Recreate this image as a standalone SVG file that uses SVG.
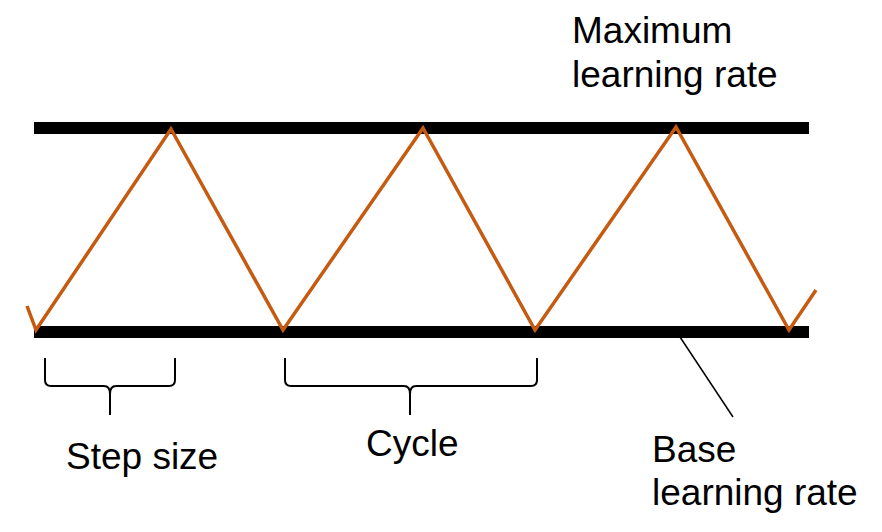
<svg xmlns="http://www.w3.org/2000/svg" width="882" height="532" viewBox="0 0 882 532">
<style>
.bar{fill:#000}
.wave{fill:none;stroke:#C55A11;stroke-width:3.5;stroke-linejoin:miter}
.brace{fill:none;stroke:#000;stroke-width:2}
.lead{stroke:#000;stroke-width:1.5}
text{font-family:"Liberation Sans",Arial,sans-serif;font-size:37px;fill:#000}
</style>
<rect width="882" height="532" fill="#fff"/>
<g id="max-bar"><rect class="bar" x="34" y="122" width="775" height="12"/></g>
<g id="base-bar"><rect class="bar" x="34" y="326" width="775" height="12"/></g>
<g id="wave"><polyline class="wave" points="27,306 36,330 171,129 283,330 423,128 535,330 676,127 789,330 816,290"/></g>
<g id="step-brace"><path class="brace" d="M45,358 L45,380 Q45,386 51,386 L104,386 Q110,386 110,394 L110,415 M110,394 Q110,386 116,386 L169,386 Q175,386 175,380 L175,358"/></g>
<g id="cycle-brace"><path class="brace" d="M285,358 L285,380 Q285,386 291,386 L404,386 Q410,386 410,394 L410,415 M410,394 Q410,386 416,386 L531,386 Q537,386 537,380 L537,358"/></g>
<g id="connectors"><line class="lead" x1="680" y1="337" x2="733" y2="417"/></g>
<g id="label-max"><text x="572" y="43">Maximum</text><text x="572" y="87">learning rate</text></g>
<g id="label-step"><text x="66" y="469">Step size</text></g>
<g id="label-cycle"><text x="366" y="456">Cycle</text></g>
<g id="label-base"><text x="652" y="462">Base</text><text x="652" y="505">learning rate</text></g>
</svg>
